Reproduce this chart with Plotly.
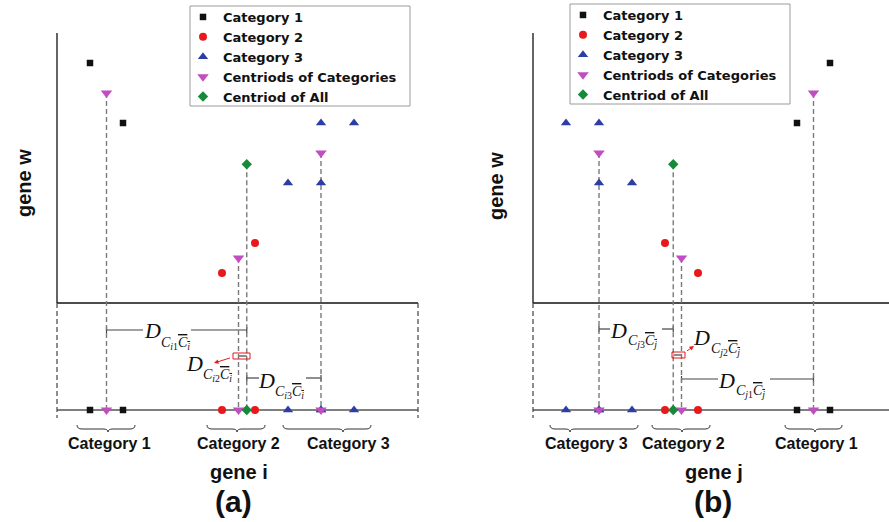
import plotly.graph_objects as go

# ------------------------------------------------------------------
# DATA  (abstract units: gene i / gene j on x, gene w on y)
# ------------------------------------------------------------------
series_names = ["Category 1", "Category 2", "Category 3",
                "Centriods of Categories", "Centriod of All"]
category_labels = ["Category 1", "Category 2", "Category 3"]

# panel (a): gene i vs gene w
a_cat1_x = [2, 4];            a_cat1_w = [8, 6]
a_cat2_x = [12, 10];          a_cat2_w = [2, 1]
a_cat3_x = [16, 18, 14, 16];  a_cat3_w = [6, 6, 4, 4]
a_cent_x = [3, 11, 16];       a_cent_w = [7, 1.5, 5]
a_all_x = [11.5];             a_all_w = [4.625]

# panel (b): gene j vs gene w
b_cat1_x = [18, 16];          b_cat1_w = [8, 6]
b_cat2_x = [8, 10];           b_cat2_w = [2, 1]
b_cat3_x = [2, 4, 4, 6];      b_cat3_w = [6, 6, 4, 4]
b_cent_x = [17, 9, 4];        b_cent_w = [7, 1.5, 5]
b_all_x = [8.5];              b_all_w = [4.625]

# ------------------------------------------------------------------
# LAYOUT GEOMETRY
# ------------------------------------------------------------------
W, H = 889, 522
XU, YU = 16.5, 30.0          # pixels per data unit
OAX, OBX, OY = 57, 533, 303  # pixel origins
SPLIT = 445

def px(x): return x / W
def py(y): return 1 - y / H
def wy(p): return (OY - p) / YU          # pixel y -> gene w units
def xa(p): return (p - OAX) / XU          # pixel x -> panel a units
def xb(p): return (p - OBX) / XU          # pixel x -> panel b units

W_TOP = 9
PROJ = wy(410)
A_XMAX = xa(418)
B_XMAX = xb(W + 20)

COL = {"c1": "#111111", "c2": "#e8191c", "c3": "#2c3ea6",
       "cent": "#c24dc0", "all": "#178a3a"}
SYM = {"c1": "square", "c2": "circle", "c3": "triangle-up",
       "cent": "triangle-down", "all": "diamond"}
SIZE = {"c1": 6.5, "c2": 8, "c3": 9, "cent": 10, "all": 8}
GRAY_DASH = "#7a7a7a"
LABEL_FONT = dict(family="Liberation Sans", size=16, color="#111")
SERIF = "Liberation Serif"

fig = go.Figure()


def add_panel(xr, legend, cats, cents, alls):
    keys = ["c1", "c2", "c3"]
    # dashed drop lines from centroids to the projection axis
    lx, ly = [], []
    for cx, cw in list(zip(*cents)) + list(zip(*alls)):
        lx += [cx, cx, None]
        ly += [cw, PROJ, None]
    fig.add_trace(go.Scatter(x=lx, y=ly, xaxis=xr, yaxis="y", mode="lines",
                             line=dict(color=GRAY_DASH, width=1.4, dash="5px,3px"),
                             showlegend=False, hoverinfo="skip"))
    # projections on the gene axis
    for k, (cx, cw) in zip(keys, cats):
        fig.add_trace(go.Scatter(x=cx, y=[PROJ] * len(cx), xaxis=xr, yaxis="y",
                                 mode="markers", showlegend=False,
                                 marker=dict(symbol=SYM[k], color=COL[k], size=SIZE[k])))
    fig.add_trace(go.Scatter(x=cents[0], y=[PROJ] * len(cents[0]), xaxis=xr, yaxis="y",
                             mode="markers", showlegend=False,
                             marker=dict(symbol=SYM["cent"], color=COL["cent"], size=SIZE["cent"])))
    fig.add_trace(go.Scatter(x=alls[0], y=[PROJ] * len(alls[0]), xaxis=xr, yaxis="y",
                             mode="markers", showlegend=False,
                             marker=dict(symbol=SYM["all"], color=COL["all"], size=SIZE["all"])))
    # 2-D scatter (legend entries)
    for name, k, (cx, cw) in zip(series_names[:3], keys, cats):
        fig.add_trace(go.Scatter(x=cx, y=cw, xaxis=xr, yaxis="y", mode="markers",
                                 name=name, legend=legend,
                                 marker=dict(symbol=SYM[k], color=COL[k], size=SIZE[k])))
    fig.add_trace(go.Scatter(x=cents[0], y=cents[1], xaxis=xr, yaxis="y", mode="markers",
                             name=series_names[3], legend=legend,
                             marker=dict(symbol=SYM["cent"], color=COL["cent"], size=SIZE["cent"])))
    fig.add_trace(go.Scatter(x=alls[0], y=alls[1], xaxis=xr, yaxis="y", mode="markers",
                             name=series_names[4], legend=legend,
                             marker=dict(symbol=SYM["all"], color=COL["all"], size=SIZE["all"])))


add_panel("x", "legend",
          [(a_cat1_x, a_cat1_w), (a_cat2_x, a_cat2_w), (a_cat3_x, a_cat3_w)],
          (a_cent_x, a_cent_w), (a_all_x, a_all_w))
add_panel("x2", "legend2",
          [(b_cat1_x, b_cat1_w), (b_cat2_x, b_cat2_w), (b_cat3_x, b_cat3_w)],
          (b_cent_x, b_cent_w), (b_all_x, b_all_w))

shapes = []
annos = []


def line(xr, x0, y0, x1, y1, color="#111", width=1.3, dash=None):
    d = dict(type="line", xref=xr, yref="y", x0=x0, y0=y0, x1=x1, y1=y1,
             line=dict(color=color, width=width), layer="below")
    if dash:
        d["line"]["dash"] = dash
    shapes.append(d)


# axes frames
for xr, xmax, dashed_right in (("x", A_XMAX, True), ("x2", B_XMAX, False)):
    line(xr, 0, 0, 0, W_TOP)                       # gene w axis
    line(xr, 0, 0, xmax, 0)                        # gene w = 0
    line(xr, 0, PROJ, xmax, PROJ, color="#555", width=1.5)   # projection axis
    line(xr, 0, 0, 0, wy(418), color="#444", width=1.2, dash="5px,3px")
    if dashed_right:
        line(xr, xmax, 0, xmax, wy(418), color="#444", width=1.2, dash="5px,3px")

# distance segments between category centroids and overall centroid
DCOL = "#444"


def dist(xr, x0, x1, yv, g0, g1):
    line(xr, x0, yv, g0, yv, color=DCOL, width=1.2)
    line(xr, g1, yv, x1, yv, color=DCOL, width=1.2)
    for xe in (x0, x1):
        line(xr, xe, yv - 0.1, xe, yv + 0.1, color=DCOL, width=1.2)


dist("x", a_cent_x[0], a_all_x[0], wy(330), xa(143), xa(191))
dist("x", a_all_x[0], a_cent_x[2], wy(378), xa(259), xa(306))
dist("x2", b_cent_x[2], b_all_x[0], wy(329), xb(610), xb(662))
dist("x2", b_cent_x[1], b_cent_x[0], wy(379), xb(718), xb(770))

# tiny distance inside red box
for xr, c, al, y0, y1, bx0, bx1 in (("x", a_cent_x[1], a_all_x[0], 353, 359, 233, 250),
                                     ("x2", b_cent_x[1], b_all_x[0], 352, 358, 672, 685)):
    line(xr, c, wy((y0 + y1) / 2), al, wy((y0 + y1) / 2), color=DCOL, width=1.2)
    shapes.append(dict(type="rect", xref="paper", yref="paper",
                       x0=px(bx0), x1=px(bx1), y0=py(y0), y1=py(y1),
                       line=dict(color="#e8191c", width=1), fillcolor="rgba(0,0,0,0)"))

# red arrows for the small distance
annos.append(dict(xref="paper", yref="paper", x=px(214), y=py(363), text=" ",
                  showarrow=True, ax=19, ay=-6, arrowcolor="#e8191c", arrowwidth=1,
                  arrowhead=2, arrowsize=0.9, standoff=0, startstandoff=0))
annos.append(dict(xref="paper", yref="paper", x=px(694), y=py(346), text=" ",
                  showarrow=True, ax=-10, ay=7, arrowcolor="#e8191c", arrowwidth=1,
                  arrowhead=2, arrowsize=0.9, standoff=0, startstandoff=0))


def dlabel(dx, dy, sx, sy, k, v):
    annos.append(dict(xref="paper", yref="paper", x=px(dx), y=py(dy), text="<i>D</i>",
                      showarrow=False, xanchor="center", yanchor="middle",
                      font=dict(family=SERIF, size=22, color="#111")))
    sub = (f"<i>C</i><sub><i>{v}</i>{k}</sub>"
           f"<span style='text-decoration:overline'><i>C</i><sub><i>{v}</i></sub></span>")
    annos.append(dict(xref="paper", yref="paper", x=px(sx), y=py(sy), text=sub,
                      showarrow=False, xanchor="left", yanchor="middle",
                      font=dict(family=SERIF, size=14, color="#111")))


dlabel(152, 330, 159, 343, 1, "i")
dlabel(194, 363, 201, 375, 2, "i")
dlabel(266, 380, 273, 392, 3, "i")
dlabel(618, 330, 626, 341, 3, "j")
dlabel(701, 337, 709, 349, 2, "j")
dlabel(726, 380, 734, 391, 1, "j")


# braces under each category group
def brace(x0, xm, x1, yt=425, yf=429, ytip=432, d=5):
    p = (f"M {px(x0)},{py(yt)} Q {px(x0)},{py(yf)} {px(x0 + d)},{py(yf)} "
         f"L {px(xm - d)},{py(yf)} Q {px(xm)},{py(yf)} {px(xm)},{py(ytip)} "
         f"Q {px(xm)},{py(yf)} {px(xm + d)},{py(yf)} "
         f"L {px(x1 - d)},{py(yf)} Q {px(x1)},{py(yf)} {px(x1)},{py(yt)}")
    shapes.append(dict(type="path", xref="paper", yref="paper", path=p,
                       line=dict(color="#333", width=1)))


for (x0, xm, x1), lab, lx in (((77, 108, 135), category_labels[0], 109),
                              ((207, 237, 265), category_labels[1], 238),
                              ((283, 343, 371), category_labels[2], 348),
                              ((550, 570, 638), category_labels[2], 586),
                              ((652, 682, 710), category_labels[1], 683),
                              ((785, 815, 842), category_labels[0], 816)):
    brace(x0, xm, x1)
    annos.append(dict(xref="paper", yref="paper", x=px(lx), y=py(443), text=f"<b>{lab}</b>",
                      showarrow=False, xanchor="center", yanchor="middle", font=LABEL_FONT))

# axis titles and panel tags
TITLE_FONT = dict(family="Liberation Sans", size=20, color="#111")
for x, y, t, ang in ((24, 183, "gene w", -90), (496, 186, "gene w", -90),
                     (239, 472, "gene i", 0), (714, 472, "gene j", 0)):
    annos.append(dict(xref="paper", yref="paper", x=px(x), y=py(y), text=f"<b>{t}</b>",
                      textangle=ang, showarrow=False, xanchor="center", yanchor="middle",
                      font=TITLE_FONT))
for x, t in ((233, "(a)"), (713, "(b)")):
    annos.append(dict(xref="paper", yref="paper", x=px(x), y=py(501), text=f"<b>{t}</b>",
                      showarrow=False, xanchor="center", yanchor="middle",
                      font=dict(family="Liberation Sans", size=30, color="#111")))

# legend frames (the legends themselves are drawn borderless inside)
for x0, y0, x1, y1 in ((190, 6, 410, 106), (570, 4, 790, 104)):
    shapes.append(dict(type="rect", xref="paper", yref="paper",
                       x0=px(x0), x1=px(x1), y0=py(y0), y1=py(y1), layer="below",
                       line=dict(color="#9a9a9a", width=1), fillcolor="white"))

LEG = dict(bgcolor="rgba(0,0,0,0)", borderwidth=0,
           font=dict(family="DejaVu Sans", size=13, color="#111", weight="bold"),
           xanchor="left", yanchor="top", itemwidth=30, tracegroupgap=0)

fig.update_layout(
    width=W, height=H, margin=dict(l=0, r=0, t=0, b=0),
    paper_bgcolor="white", plot_bgcolor="white",
    xaxis=dict(domain=[0, SPLIT / W], range=[xa(0), xa(SPLIT)], visible=False, fixedrange=True),
    xaxis2=dict(domain=[SPLIT / W, 1], range=[xb(SPLIT), xb(W)], visible=False,
                anchor="y", fixedrange=True),
    yaxis=dict(domain=[0, 1], range=[wy(H), wy(0)], visible=False, fixedrange=True),
    shapes=shapes, annotations=annos,
    legend=dict(x=px(183), y=py(2), **LEG),
    legend2=dict(x=px(563), y=py(0), **LEG),
)

fig.write_html("out.html", config={"displayModeBar": False},
               post_script="document.body.style.margin='0';")
